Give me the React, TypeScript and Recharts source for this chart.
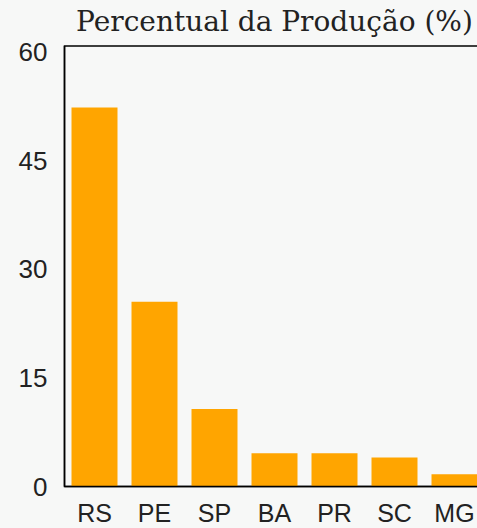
import React from 'react';
import { BarChart, Bar, XAxis, YAxis, ReferenceArea } from 'recharts';

const categories = ['RS', 'PE', 'SP', 'BA', 'PR', 'SC', 'MG'];
const percentages = [52.3, 25.5, 10.7, 4.6, 4.6, 4.0, 1.7];
const yTicks = [0, 15, 30, 45, 60];
const title = 'Percentual da Produção (%)';

const data = categories.map((c, i) => ({ uf: c, pct: percentages[i] }));

const Y_MAX = 60.8;

export default function App() {
  return (
    <div
      style={{
        position: 'fixed',
        left: 0,
        top: 0,
        width: 477,
        height: 528,
        overflow: 'hidden',
        background: '#f7f8f7',
      }}
    >
      <div
        style={{
          position: 'absolute',
          left: 64.5,
          top: 5,
          width: 420,
          textAlign: 'center',
          fontFamily: '"DejaVu Serif", serif',
          fontSize: 28,
          lineHeight: '34px',
          color: '#222',
          whiteSpace: 'nowrap',
        }}
      >
        {title}
      </div>
      <BarChart
        width={500}
        height={528}
        data={data}
        margin={{ top: 46, right: 15.5, bottom: 0, left: 0 }}
        barCategoryGap={7}
      >
        <ReferenceArea
          y1={0}
          y2={Y_MAX}
          fill="none"
          stroke="#000"
          strokeWidth={1.5}
          ifOverflow="visible"
        />
        <XAxis
          dataKey="uf"
          height={41.5}
          axisLine={{ stroke: '#000', strokeWidth: 1.5 }}
          tickLine={false}
          tickSize={0}
          tickMargin={18}
          interval={0}
          tick={{ fill: '#222', fontSize: 25, fontFamily: '"Liberation Sans", Arial, sans-serif' }}
        />
        <YAxis
          width={64.5}
          domain={[0, Y_MAX]}
          ticks={yTicks}
          axisLine={{ stroke: '#000', strokeWidth: 1.5 }}
          tickLine={false}
          tickSize={0}
          tickMargin={17}
          tick={{ fill: '#222', fontSize: 26, fontFamily: '"Liberation Sans", Arial, sans-serif' }}
        />
        <Bar dataKey="pct" fill="#FFA500" isAnimationActive={false} />
      </BarChart>
    </div>
  );
}
